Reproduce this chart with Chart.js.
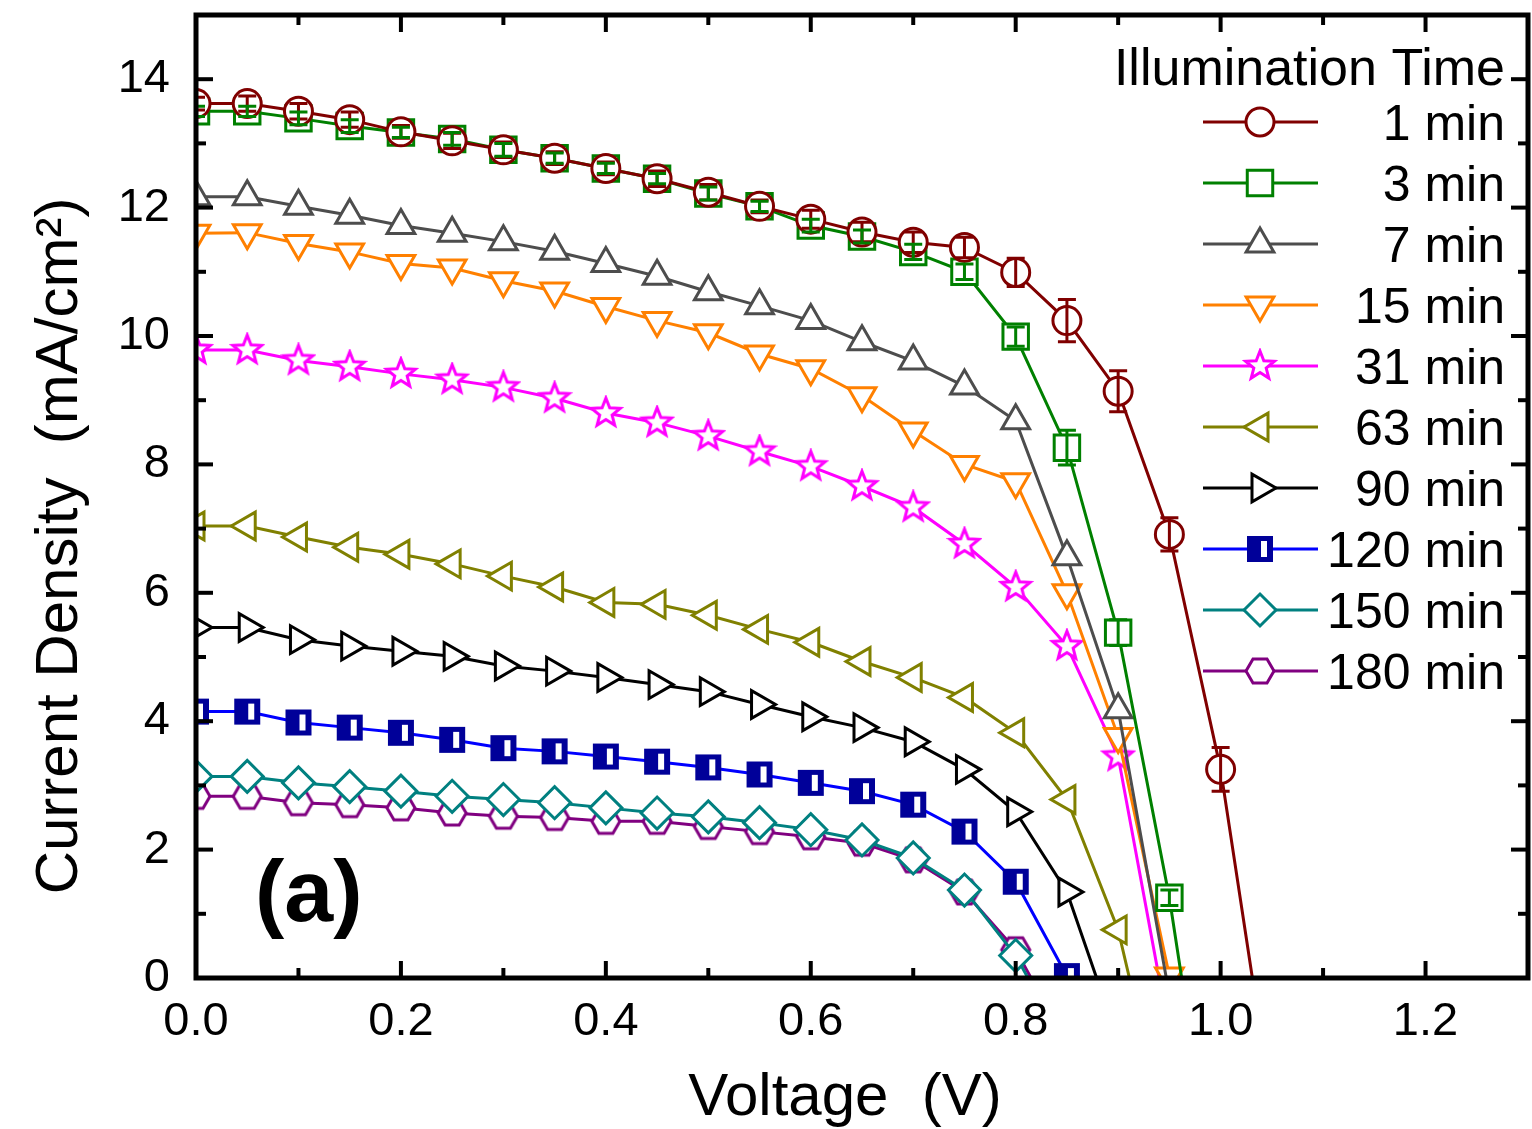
<!DOCTYPE html>
<html>
<head>
<meta charset="utf-8">
<script src="https://cdn.jsdelivr.net/npm/chart.js@4.4.0/dist/chart.umd.min.js"></script>
<style>
  html, body { margin: 0; padding: 0; background: #fff; }
  canvas { display: block; }
</style>
</head>
<body>
<canvas id="myChart" width="1532" height="1129"></canvas>
<script>
// voltage steps (V), shared by all curves
const voltages = [0, 0.05, 0.1, 0.15, 0.2, 0.25, 0.3, 0.35, 0.4, 0.45, 0.5,
  0.55, 0.6, 0.65, 0.7, 0.75, 0.8, 0.85, 0.9, 0.95, 1.0];

const seriesNames = ["1 min", "3 min", "7 min", "15 min", "31 min",
  "63 min", "90 min", "120 min", "150 min", "180 min"];

// current density (mA/cm2) per illumination time
const j1 = [13.62, 13.62, 13.5, 13.37, 13.18, 13.04, 12.9, 12.77, 12.61, 12.45, 12.24,
  12.02, 11.82, 11.62, 11.46, 11.38, 10.99, 10.24, 9.14, 6.91, 3.25];
const j3 = [13.5, 13.5, 13.39, 13.27, 13.17, 13.07, 12.9, 12.77, 12.61, 12.45, 12.22,
  12.02, 11.72, 11.55, 11.31, 11.0, 9.99, 8.26, 5.38, 1.25];
const j7 = [12.17, 12.17, 12.02, 11.88, 11.72, 11.6, 11.47, 11.32, 11.13, 10.93, 10.69,
  10.47, 10.24, 9.91, 9.61, 9.22, 8.68, 6.56, 4.18];
const j15 = [11.6, 11.61, 11.44, 11.31, 11.13, 11.06, 10.86, 10.7, 10.46, 10.24, 10.05,
  9.72, 9.49, 9.07, 8.52, 8.0, 7.73, 6.0, 3.76, 0.03];
const j31 = [9.78, 9.78, 9.62, 9.52, 9.41, 9.32, 9.2, 9.03, 8.8, 8.65, 8.44,
  8.2, 7.97, 7.66, 7.33, 6.76, 6.09, 5.17, 3.45];
const j63 = [7.04, 7.04, 6.87, 6.71, 6.6, 6.45, 6.26, 6.09, 5.85, 5.82, 5.65,
  5.43, 5.23, 4.93, 4.68, 4.37, 3.82, 2.78, 0.75];
const j90 = [5.46, 5.46, 5.27, 5.17, 5.09, 5.01, 4.86, 4.78, 4.68, 4.57, 4.46,
  4.26, 4.07, 3.9, 3.68, 3.25, 2.59, 1.34];
const j120 = [4.15, 4.15, 3.98, 3.9, 3.82, 3.71, 3.58, 3.53, 3.45, 3.37, 3.28,
  3.17, 3.04, 2.91, 2.7, 2.28, 1.5, 0.03];
const j150 = [3.14, 3.14, 3.04, 2.98, 2.91, 2.83, 2.78, 2.73, 2.65, 2.57, 2.51,
  2.42, 2.31, 2.15, 1.87, 1.37, 0.35];
const j180 = [2.83, 2.83, 2.73, 2.7, 2.65, 2.57, 2.52, 2.5, 2.44, 2.44, 2.36,
  2.28, 2.2, 2.1, 1.84, 1.34, 0.44];

// open circuit voltage where the line meets zero (no marker there)
const vocs = [1.031, 0.962, 0.947, null, 0.94, 0.911, 0.879, null, 0.812, 0.815];

// error bars (mA/cm2)
const err1 = [0.1, 0.12, 0.12, 0.12, 0.1, 0.12, 0.12, 0.1, 0.1, 0.12, 0.12,
  0.1, 0.14, 0.15, 0.16, 0.16, 0.22, 0.33, 0.32, 0.26, 0.34];
const err3 = [0.08, 0.08, 0.1, 0.1, 0.08, 0.1, 0.1, 0.08, 0.08, 0.08, 0.1,
  0.08, 0.1, 0.1, 0.12, 0.12, 0.15, 0.27, 0.2, 0.12];

const xTicks = [0.0, 0.2, 0.4, 0.6, 0.8, 1.0, 1.2];
const xMinor = [0.1, 0.3, 0.5, 0.7, 0.9, 1.1];
const yTicks = [0, 2, 4, 6, 8, 10, 12, 14];
const yMinor = [1, 3, 5, 7, 9, 11, 13];

const currents = [j1, j3, j7, j15, j31, j63, j90, j120, j150, j180];
const errorSets = [[0, err1], [1, err3]];

const colors = ["#800000", "#008000", "#4d4d4d", "#ff8000", "#ff00ff",
  "#808000", "#000000", "#0000ff", "#008080", "#800080"];

const FONT = "'Liberation Sans', Arial, Helvetica, sans-serif";
Chart.defaults.font.family = FONT;

// little canvases for markers chart.js does not have
function makeMarker(draw) {
  const c = document.createElement("canvas");
  c.width = 36; c.height = 36;
  const g = c.getContext("2d");
  draw(g, 18, 18);
  return c;
}
const starImg = makeMarker((g, cx, cy) => {
  g.beginPath();
  for (let k = 0; k < 10; k++) {
    const r = k % 2 === 0 ? 15 : 6.5;
    const a = -Math.PI / 2 + k * Math.PI / 5;
    const px = cx + r * Math.cos(a), py = cy + r * Math.sin(a);
    k === 0 ? g.moveTo(px, py) : g.lineTo(px, py);
  }
  g.closePath();
  g.fillStyle = "#fff"; g.fill();
  g.strokeStyle = colors[4]; g.lineWidth = 3; g.stroke();
});
const hexImg = makeMarker((g, cx, cy) => {
  g.beginPath();
  for (let k = 0; k < 6; k++) {
    const a = k * Math.PI / 3;
    const px = cx + 14 * Math.cos(a), py = cy + 14 * Math.sin(a);
    k === 0 ? g.moveTo(px, py) : g.lineTo(px, py);
  }
  g.closePath();
  g.fillStyle = "#fff"; g.fill();
  g.strokeStyle = colors[9]; g.lineWidth = 3; g.stroke();
});
const blueSqImg = makeMarker((g, cx, cy) => {
  g.fillStyle = "#000099";
  g.fillRect(cx - 13, cy - 13, 26, 26);
  g.fillStyle = "#fff";
  g.fillRect(cx + 1, cy - 8, 6, 16);
});

const pointStyles = ["circle", "rect", "triangle", "triangle", starImg,
  "triangle", "triangle", blueSqImg, "rectRot", hexImg];
const rotations = [0, 0, 0, 180, 0, 270, 90, 0, 0, 0];
const radii = [14, 18, 16, 16, 14, 16, 16, 14, 16, 14];

const datasets = currents.map((vals, i) => {
  const pts = vals.map((v, k) => ({ x: voltages[k], y: v }));
  const rad = vals.map(() => radii[i]);
  if (vocs[i] !== null) { pts.push({ x: vocs[i], y: 0 }); rad.push(0); }
  return {
    label: seriesNames[i],
    data: pts,
    borderColor: colors[i],
    borderWidth: 3,
    pointStyle: pointStyles[i],
    rotation: rotations[i],
    pointRadius: rad,
    pointBorderWidth: 3,
    pointBorderColor: colors[i],
    pointBackgroundColor: "#fff",
    tension: 0,
    clip: 0
  };
});

const drawLine = (ctx, x1, y1, x2, y2) => {
  ctx.beginPath(); ctx.moveTo(x1, y1); ctx.lineTo(x2, y2); ctx.stroke();
};

const noPad = (axis) => {
  axis.paddingLeft = 0; axis.paddingRight = 0;
  axis.paddingTop = 0; axis.paddingBottom = 0;
};

const decor = {
  id: "decor",
  afterDatasetsDraw(chart) {
    const ctx = chart.ctx, ys = chart.scales.y, a = chart.chartArea;
    ctx.save();
    ctx.beginPath();
    ctx.rect(a.left, a.top, a.right - a.left, a.bottom - a.top);
    ctx.clip();
    ctx.lineWidth = 3;
    errorSets.forEach(([idx, errs]) => {
      const meta = chart.getDatasetMeta(idx);
      ctx.strokeStyle = colors[idx];
      errs.forEach((e, i) => {
        const pt = meta.data[i];
        if (!pt) return;
        const v = currents[idx][i];
        const y1 = ys.getPixelForValue(v + e), y2 = ys.getPixelForValue(v - e);
        ctx.beginPath();
        ctx.moveTo(pt.x, y1); ctx.lineTo(pt.x, y2);
        ctx.moveTo(pt.x - 9, y1); ctx.lineTo(pt.x + 9, y1);
        ctx.moveTo(pt.x - 9, y2); ctx.lineTo(pt.x + 9, y2);
        ctx.stroke();
      });
    });
    ctx.restore();
  },
  afterDraw(chart) {
    const ctx = chart.ctx, xs = chart.scales.x, ys = chart.scales.y;
    const { left, right, top, bottom } = chart.chartArea;
    ctx.save();
    ctx.strokeStyle = "#000";
    ctx.lineWidth = 4;
    xTicks.forEach(v => {
      const p = xs.getPixelForValue(v);
      drawLine(ctx, p, bottom, p, bottom - 17);
      drawLine(ctx, p, top, p, top + 17);
    });
    xMinor.forEach(v => {
      const p = xs.getPixelForValue(v);
      drawLine(ctx, p, bottom, p, bottom - 10);
      drawLine(ctx, p, top, p, top + 10);
    });
    yTicks.forEach(v => {
      const p = ys.getPixelForValue(v);
      drawLine(ctx, left, p, left + 17, p);
      drawLine(ctx, right, p, right - 17, p);
    });
    yMinor.forEach(v => {
      const p = ys.getPixelForValue(v);
      drawLine(ctx, left, p, left + 10, p);
      drawLine(ctx, right, p, right - 10, p);
    });
    ctx.lineWidth = 5;
    ctx.strokeRect(left, top, right - left, bottom - top);

    // legend
    ctx.fillStyle = "#000";
    ctx.textAlign = "right";
    ctx.textBaseline = "alphabetic";
    ctx.font = "52px " + FONT;
    ctx.fillText("Illumination Time", 1505, 85);
    ctx.font = "50px " + FONT;
    seriesNames.forEach((name, i) => {
      const y = 122 + i * 61;
      ctx.strokeStyle = colors[i];
      ctx.lineWidth = 3;
      drawLine(ctx, 1203, y, 1318, y);
      ctx.fillStyle = "#fff";
      Chart.helpers.drawPoint(ctx, {
        pointStyle: pointStyles[i], rotation: rotations[i],
        radius: radii[i], borderWidth: 3
      }, 1260, y);
      ctx.fillStyle = "#000";
      ctx.fillText(name, 1505, y + 18);
    });

    // panel label and axis titles
    ctx.textAlign = "left";
    ctx.font = "bold 88px " + FONT;
    ctx.fillText("(a)", 255, 921);
    ctx.textAlign = "center";
    ctx.font = "60px " + FONT;
    ctx.fillText("Voltage  (V)", 845, 1115);
    ctx.translate(60, 546);
    ctx.rotate(-Math.PI / 2);
    ctx.textBaseline = "middle";
    ctx.fillText("Current Density  (mA/cm\u00B2)", 0, 0);
    ctx.restore();
  }
};

new Chart(document.getElementById("myChart"), {
  type: "line",
  data: { datasets },
  options: {
    responsive: false,
    animation: false,
    layout: { autoPadding: false, padding: { top: 15, right: 4, left: 0, bottom: 0 } },
    plugins: { legend: { display: false }, tooltip: { enabled: false } },
    scales: {
      x: {
        type: "linear",
        min: 0, max: 1.3,
        grid: { display: false, drawTicks: false },
        border: { display: false },
        afterBuildTicks: (axis) => { axis.ticks = xTicks.map(v => ({ value: v })); },
        afterFit: (axis) => { axis.height = 151; noPad(axis); },
        ticks: {
          color: "#000", padding: 16, maxRotation: 0,
          font: { size: 47 },
          callback: (v) => Number(v).toFixed(1)
        }
      },
      y: {
        type: "linear",
        min: 0, max: 15,
        grid: { display: false, drawTicks: false },
        border: { display: false },
        afterBuildTicks: (axis) => { axis.ticks = yTicks.map(v => ({ value: v })); },
        afterFit: (axis) => { axis.width = 196; noPad(axis); },
        ticks: {
          color: "#000", padding: 26,
          font: { size: 47 },
          callback: (v) => String(v)
        }
      }
    }
  },
  plugins: [decor]
});
</script>
</body>
</html>
